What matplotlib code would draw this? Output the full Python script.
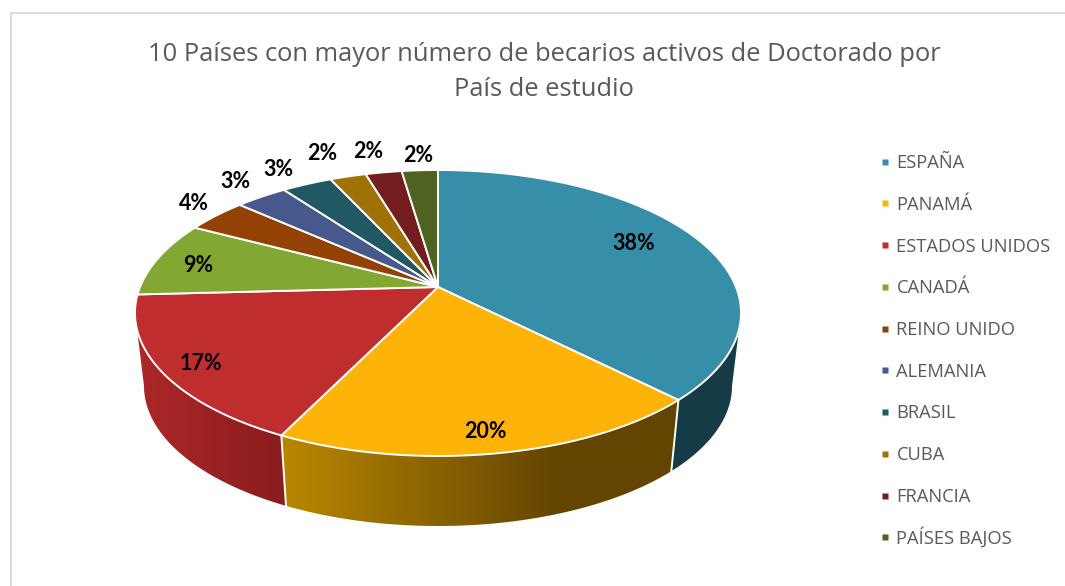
import numpy as np
import matplotlib
matplotlib.use("Agg")
import matplotlib.pyplot as plt
from matplotlib.colors import to_rgb
from matplotlib.patches import Polygon

# ---- data ----
countries = ["ESPAÑA", "PANAMÁ", "ESTADOS UNIDOS", "CANADÁ", "REINO UNIDO",
             "ALEMANIA", "BRASIL", "CUBA", "FRANCIA", "PAÍSES BAJOS"]
shares = [37.6, 19.65, 16.9, 8.55, 3.9, 3.3, 3.2, 2.3, 2.3, 2.3]
title_lines = ["10 Países con mayor número de becarios activos de Doctorado por",
               "País de estudio"]

# ---- styles ----
colors = ["#368EA8", "#FDB307", "#BF2D2E", "#83A733", "#934104",
          "#47598C", "#205964", "#A07206", "#741D1F", "#50621F"]
label_xy = [(634, 243), (485, 431), (201, 363), (198, 266), (194, 203),
            (235, 182), (278, 169), (322, 154), (368, 152), (418, 155)]
wall_left = {0: "#153B47", 1: "#B88700", 2: "#AC2727"}
wall_right = {0: "#153B47", 1: "#644500", 2: "#8A1D1E"}
wall_fade_end = {0: 700, 1: 555, 2: 285}
wall_fade_start = {0: 675, 1: 285, 2: 140}

W, H = 1065, 586
CX, CY, RY = 438, 313, 143
APEX = 26
c = 2 * APEX / (2 * RY)
a = 303 * np.sqrt(1 - c ** 2)
BOT_CY, BOT_RX, BOT_RY = 386, 294, 140


def top(theta):
    """Perspective image of a disc point at the rim (clockwise from north)."""
    t = np.radians(theta)
    x, y = np.sin(t), np.cos(t)
    d = 1 + c * y
    return CX + a * x / d, CY - (RY * y + APEX) / d


def bottom(theta):
    X, Y = top(theta)
    return CX + (X - CX) * BOT_RX / 303, BOT_CY + (Y - CY) * BOT_RY / RY


plt.rcParams["font.family"] = ["Open Sans", "DejaVu Sans"]
fig = plt.figure(figsize=(W / 100, H / 100), dpi=100)
ax = fig.add_axes([0, 0, 1, 1])
ax.axis("off")

# chart frame
ax.plot([10.5, 10.5, W], [H, 12.5, 12.5], color="#D9D9D9", lw=1.3, zorder=0,
        solid_joinstyle="miter")

edges = np.concatenate([[0], np.cumsum(shares)]) * 360 / np.sum(shares)

# visible side walls
lim_r = np.degrees(np.arccos(-c))
lim_l = 360 - lim_r
for i in range(3):
    t0, t1 = max(edges[i], lim_r), min(edges[i + 1], lim_l)
    ts = np.linspace(t0, t1, 200)
    xt, yt = top(ts)
    xb, yb = bottom(ts)
    verts = np.column_stack([np.r_[xt, xb[::-1]], np.r_[yt, yb[::-1]]])
    patch = Polygon(verts, closed=True, facecolor=wall_left[i] if i == 0 else "none",
                    edgecolor="none", zorder=1)
    ax.add_patch(patch)
    if i > 0:
        xmin, xmax = verts[:, 0].min(), verts[:, 0].max()
        ymin, ymax = verts[:, 1].min(), verts[:, 1].max()
        grid = np.linspace(xmin, xmax, 512)
        f = np.clip((grid - wall_fade_start[i]) / (wall_fade_end[i] - wall_fade_start[i]), 0, 1)[None, :, None]
        img = np.array(to_rgb(wall_left[i]))[None, None, :] * (1 - f) + np.array(to_rgb(wall_right[i]))[None, None, :] * f
        im = ax.imshow(img, extent=[xmin, xmax, ymax, ymin], aspect="auto", zorder=1,
                       interpolation="bilinear")
        im.set_clip_path(patch)

ax.set_xlim(0, W)
ax.set_ylim(H, 0)

for th in edges[1:3]:
    xt, yt = top(th)
    xb, yb = bottom(th)
    ax.plot([xt, xb], [yt, yb], color="white", lw=1.4, zorder=2)

# top surface
apex_xy = (CX, CY - APEX)
for i, col in enumerate(colors):
    ts = np.linspace(edges[i], edges[i + 1], 120)
    xs, ys = top(ts)
    ax.fill(np.r_[apex_xy[0], xs], np.r_[apex_xy[1], ys], facecolor=col,
            edgecolor="white", lw=1.4, zorder=3, joinstyle="round")

# data labels
for s, (x, y) in zip(shares, label_xy):
    ax.text(x, y, f"{s:.0f}%", ha="center", va="center", fontsize=15.5,
            family=["Lato", "DejaVu Sans"], weight="bold", color="black", zorder=4)

# title
for line, y in zip(title_lines, (54.5, 89)):
    ax.text(544, y, line, ha="center", va="center", fontsize=18.4, color="#595959")

# legend
for i, (name, col) in enumerate(zip(countries, colors)):
    y = 161.5 + 41.75 * i
    ax.plot([885], [y], ls="none", marker="s", ms=5, mfc=col, mec="none", zorder=4)
    ax.text(896.5, y + 6.5, name, ha="left", va="baseline", fontsize=13.2, color="#595959")

fig.savefig("out.png", dpi=100, facecolor="white")
